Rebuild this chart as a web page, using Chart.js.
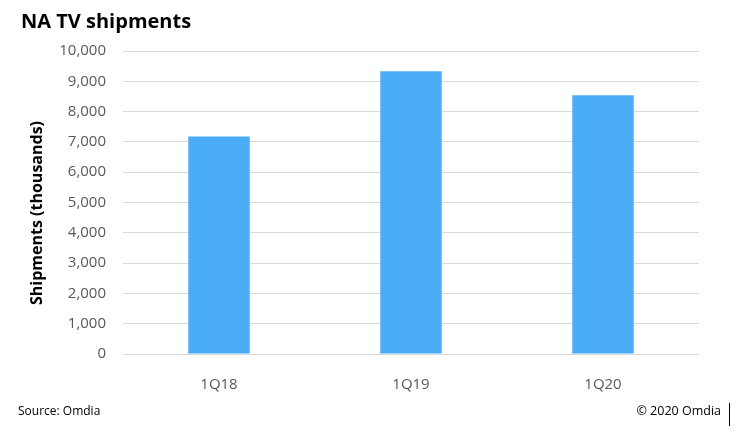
<!DOCTYPE html>
<html lang="en">

<head>
    <meta charset="UTF-8">
    <title>NA TV shipments</title>
    <script src="https://cdn.jsdelivr.net/npm/chart.js"></script>
    <style>
        html, body { margin: 0; padding: 0; background: #fff; }
        .janela { position: relative; width: 751px; height: 442px; font-family: "Open Sans", sans-serif; }
        #grafico { position: absolute; left: 0; top: 0; }
        .titulo { position: absolute; left: 21px; top: 7px; font-size: 20px; font-weight: bold; color: #000; }
        .tituloY { position: absolute; left: 36px; top: 213px; width: 0; height: 0; }
        .tituloY span { position: absolute; transform: translate(-50%, -50%) rotate(-90deg); white-space: nowrap; font-size: 16px; font-weight: bold; color: #000; }
        .fonte { position: absolute; left: 18px; top: 402px; font-size: 12px; color: #000; }
        .copy { position: absolute; right: 30px; top: 402px; font-size: 12.5px; color: #000; }
        .barra { position: absolute; left: 729px; top: 403px; width: 1px; height: 23px; background: #000; }
    </style>
</head>

<body>
    <div class="janela">
        <canvas id="grafico" width="751" height="442"></canvas>
        <div class="titulo">NA TV shipments</div>
        <div class="tituloY"><span>Shipments (thousands)</span></div>
        <div class="fonte">Source: Omdia</div>
        <div class="copy">© 2020 Omdia</div>
        <div class="barra"></div>
    </div>

<script>
    // dados
    const trimestres = ['1Q18', '1Q19', '1Q20'];
    const embarques = [7180, 9330, 8540];
    const eixoMin = 0;
    const eixoMax = 10000;
    const passo = 1000;

    const dados = {
        labels: trimestres,
        datasets: [{
            label: 'Shipments',
            data: embarques,
            backgroundColor: '#4aabf7',
            borderWidth: 0,
            categoryPercentage: 1,
            barPercentage: 0.32
        }]
    };

    const config = {
        type: 'bar',
        data: dados,
        options: {
            responsive: false,
            animation: false,
            layout: { padding: { left: 0, right: 52, top: 51, bottom: 0 } },
            plugins: {
                legend: { display: false },
                tooltip: { enabled: false }
            },
            scales: {
                x: {
                    grid: { display: false },
                    border: { display: false },
                    ticks: { color: '#595959', font: { family: 'Open Sans', size: 15 }, padding: 14 },
                    afterFit: function (scale) { scale.height = 88; }
                },
                y: {
                    min: eixoMin,
                    max: eixoMax,
                    ticks: {
                        stepSize: passo,
                        color: '#595959',
                        font: { family: 'Open Sans', size: 15 },
                        padding: 17,
                        callback: function (v) { return v.toLocaleString('en-US'); }
                    },
                    grid: { color: '#d9d9d9', lineWidth: 1, drawTicks: false },
                    border: { display: false },
                    afterFit: function (scale) { scale.width = 123; }
                }
            }
        }
    };

    let myChart = new Chart(document.getElementById('grafico'), config);
</script>
</body>

</html>
